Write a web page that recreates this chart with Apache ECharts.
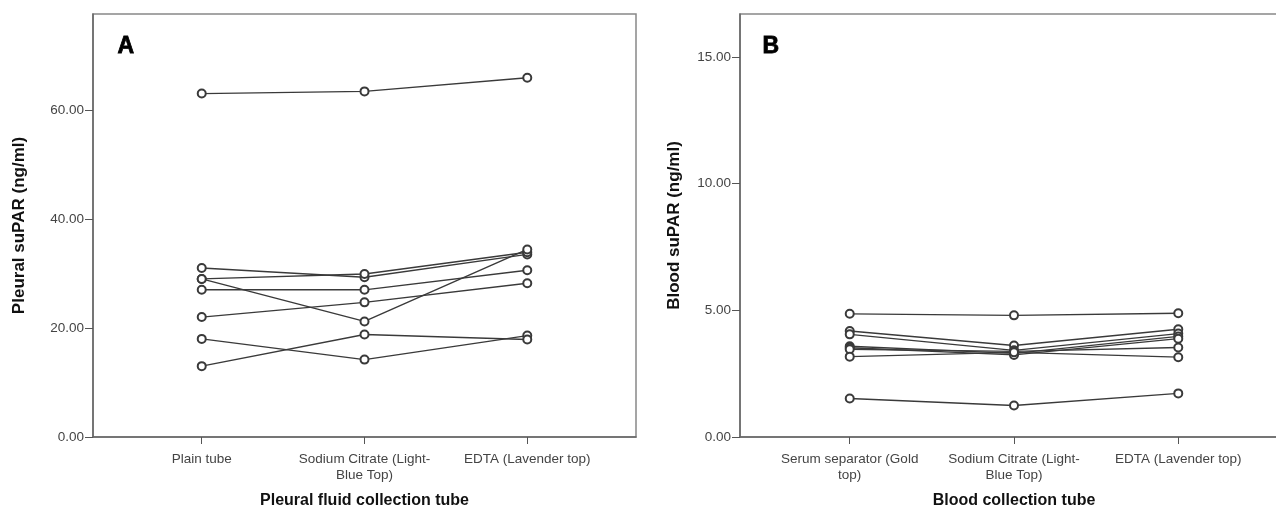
<!DOCTYPE html>
<html>
<head>
<meta charset="utf-8">
<script src="https://cdn.jsdelivr.net/npm/echarts@6/dist/echarts.min.js"></script>
<style>
  html, body { margin: 0; padding: 0; background: #fff; }
  #chart { width: 1276px; height: 511px; }
</style>
</head>
<body>
<div id="chart"></div>
<script>
// Tube categories (x) for each panel
const pleuralTubes = ['Plain tube', 'Sodium Citrate (Light-\nBlue Top)', 'EDTA (Lavender top)'];
const bloodTubes = ['Serum separator (Gold\ntop)', 'Sodium Citrate (Light-\nBlue Top)', 'EDTA (Lavender top)'];

// Pleural fluid suPAR (ng/ml) per patient, one array per patient across the three tubes
const pleural1 = [63.0, 63.4, 65.9];
const pleural2 = [31.0, 29.3, 33.5];
const pleural3 = [29.0, 29.9, 33.9];
const pleural4 = [29.0, 21.2, 34.4];
const pleural5 = [27.0, 27.0, 30.6];
const pleural6 = [22.0, 24.7, 28.2];
const pleural7 = [18.0, 14.2, 18.6];
const pleural8 = [13.0, 18.8, 17.9];

// Blood suPAR (ng/ml) per patient
const blood1 = [4.86, 4.80, 4.88];
const blood2 = [4.18, 3.61, 4.25];
const blood3 = [4.05, 3.42, 4.08];
const blood4 = [3.58, 3.30, 3.97];
const blood5 = [3.52, 3.24, 3.88];
const blood6 = [3.46, 3.38, 3.53];
const blood7 = [3.17, 3.34, 3.15];
const blood8 = [1.52, 1.24, 1.72];

// Y tick values
const pleuralTicks = [0, 20, 40, 60];
const bloodTicks = [0, 5, 10, 15];

const pleuralPatients = [pleural1, pleural2, pleural3, pleural4, pleural5, pleural6, pleural7, pleural8];
const bloodPatients = [blood1, blood2, blood3, blood4, blood5, blood6, blood7, blood8];

const FONT = 'Liberation Sans, Arial, sans-serif';
const tickIdx = [0, 1, 2];

function xAxisFor(gridIndex, tubes, title) {
  return {
    gridIndex: gridIndex,
    type: 'value',
    min: -0.668,
    max: 2.668,
    splitLine: { show: false },
    axisLine: { show: true, onZero: false, lineStyle: { color: '#666', width: 1.5 } },
    axisTick: { show: true, customValues: tickIdx, length: 7, lineStyle: { color: '#555', width: 1 } },
    axisLabel: {
      customValues: tickIdx,
      formatter: function (v) { return tubes[Math.round(v)]; },
      color: '#444', fontFamily: FONT, fontSize: 13.5, lineHeight: 16, margin: 14
    },
    name: title,
    nameLocation: 'middle',
    nameGap: 56,
    nameTextStyle: { color: '#111', fontFamily: FONT, fontSize: 16, fontWeight: 'bold' }
  };
}

function yAxisFor(gridIndex, max, ticks, title, gap) {
  return {
    gridIndex: gridIndex,
    type: 'value',
    min: 0,
    max: max,
    splitLine: { show: false },
    axisLine: { show: true, onZero: false, lineStyle: { color: '#666', width: 1.5 } },
    axisTick: { show: true, customValues: ticks, length: 8, lineStyle: { color: '#555', width: 1 } },
    axisLabel: {
      customValues: ticks,
      formatter: function (v) { return v.toFixed(2); },
      color: '#444', fontFamily: FONT, fontSize: 13.5, margin: 9
    },
    name: title,
    nameLocation: 'middle',
    nameGap: gap,
    nameTextStyle: { color: '#111', fontFamily: FONT, fontSize: 17, fontWeight: 'bold' }
  };
}

function lineSeries(values, idx) {
  return {
    type: 'line',
    xAxisIndex: idx,
    yAxisIndex: idx,
    data: values.map(function (v, i) { return [i, v]; }),
    symbol: 'emptyCircle',
    symbolSize: 8,
    showSymbol: true,
    lineStyle: { color: '#3a3a3a', width: 1.4 },
    itemStyle: { color: '#3a3a3a', borderWidth: 1.2 },
    emphasis: { disabled: true },
    silent: true
  };
}

const series = [];
pleuralPatients.forEach(function (p) { series.push(lineSeries(p, 0)); });
bloodPatients.forEach(function (p) { series.push(lineSeries(p, 1)); });

const gridBase = { top: 14, height: 423, show: true, borderColor: '#888', borderWidth: 1.5, backgroundColor: 'transparent', containLabel: false, outerBoundsMode: 'none' };

const chart = echarts.init(document.getElementById('chart'), null, { renderer: 'canvas' });
chart.setOption({
  animation: false,
  backgroundColor: '#fff',
  grid: [
    Object.assign({ left: 93, width: 543 }, gridBase),
    Object.assign({ left: 740, width: 548 }, gridBase)
  ],
  xAxis: [
    xAxisFor(0, pleuralTubes, 'Pleural fluid collection tube'),
    xAxisFor(1, bloodTubes, 'Blood collection tube')
  ],
  yAxis: [
    yAxisFor(0, 77.6, pleuralTicks, 'Pleural suPAR (ng/ml)', 65),
    yAxisFor(1, 16.69, bloodTicks, 'Blood suPAR (ng/ml)', 57)
  ],
  graphic: [
    { type: 'text', left: 117, top: 35, style: { text: 'A', font: 'bold 23px ' + FONT, fill: '#000', stroke: '#000', lineWidth: 0.8 } },
    { type: 'text', left: 762, top: 35, style: { text: 'B', font: 'bold 23px ' + FONT, fill: '#000', stroke: '#000', lineWidth: 0.8 } }
  ],
  series: series
});
</script>
</body>
</html>
